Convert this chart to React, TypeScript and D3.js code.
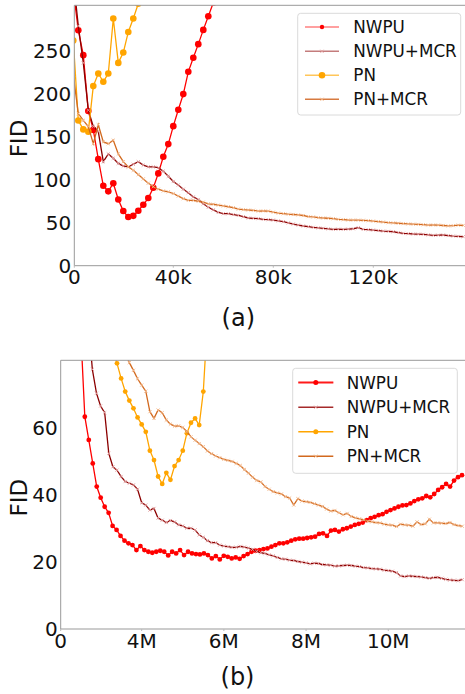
import * as d3 from "d3";

const FONT = "'DejaVu Sans', sans-serif";

// ---------- panel (a): FID vs iterations (k), one point every 2k ----------
const A_START = 0;
const A_STEP = 2;
const A_NWPU = [320, 274, 245, 180, 158, 124, 93, 86.5, 96, 77, 63.6, 56.6, 58, 64, 71, 78.7, 90.7, 107.4,
  126.7, 141.5, 162.4, 181.4, 199.7, 225.6, 241.9, 257.8, 274.4, 290.3, 306, 322];
const A_NWPU_MCR = [334, 279, 236, 181, 162, 156, 121, 130, 125, 119, 116, 115, 118, 121, 117, 115, 115, 114,
  110, 104, 98, 94, 89, 85, 80, 77, 72, 68, 65, 62, 60.5, 60.5, 59.5, 58.5, 57, 55.5, 55.1, 54.8, 53.9, 53.6,
  53.1, 52.2, 51.2, 49.8, 48.5, 47.3, 46.2, 45.4, 44.6, 44.0, 43.5, 42.9, 42.3, 42.5, 42.3, 42.6, 43.0, 44.2,
  42.3, 41.9, 41.5, 40.9, 40.3, 39.9, 39.5, 38.6, 37.7, 37.3, 36.9, 36.7, 36.5, 35.9, 35.3, 35.5, 35.7, 35.1,
  34.5, 34.1, 33.7];
const A_PN = [262, 169, 158.6, 156, 209, 223.7, 214, 223.7, 287.7, 236, 248, 272, 287.7, 305, 320];
const A_PN_MCR = [222, 177, 169, 162, 142, 164, 144, 142, 146, 130, 121, 115, 111, 106, 101, 96, 92, 89, 87,
  86, 84, 81, 78, 76, 76, 75, 74, 72, 71.5, 70.5, 69.5, 68.6, 67.5, 65.9, 65.2, 64.8, 64.4, 63.6, 63.8, 63.6,
  62.3, 61.2, 60.5, 59.9, 59.6, 59.1, 58.4, 57.2, 56.7, 55.9, 55.5, 55.2, 54.7, 54.0, 53.6, 53.2, 53.1, 53.0,
  52.8, 52.4, 51.9, 51.3, 50.8, 50.1, 49.8, 49.4, 49.0, 48.6, 48.3, 48.1, 47.7, 47.3, 47.4, 47.3, 46.8, 46.3,
  46.6, 47.2, 46.9];
const A_Y_TICKS = [0, 50, 100, 150, 200, 250];
const A_X_TICKS = [0, 40, 80, 120];
const A_X_LABELS = ["0", "40k", "80k", "120k"];

// ---------- panel (b): FID vs iterations (M) ----------
const B_NWPU_START = 2.52;
const B_NWPU_STEP = 0.0966;
const B_NWPU = [88, 63.2, 56.3, 49.3, 42.4, 39.1, 36.4, 34.6, 30.7, 29.5, 27.7, 26.3, 25.5, 25.0, 23.5, 24.7,
  23.5, 23.0, 22.7, 23.0, 23.3, 23.0, 21.9, 23.0, 22.5, 23.5, 22.0, 23.0, 22.5, 22.3, 22.2, 22.5, 22.0, 21.0,
  21.7, 20.7, 21.8, 21.5, 21.0, 21.3, 20.9, 21.7, 22.3, 23.0, 23.3, 23.5, 23.8, 24.0, 24.5, 25.0, 25.5, 25.5,
  25.8, 26.3, 26.7, 26.9, 26.9, 27.1, 27.3, 27.5, 28.3, 28.5, 27.7, 29.3, 29.5, 29.0, 29.7, 30.0, 30.5, 31.0,
  31.3, 31.7, 32.4, 33.0, 33.4, 33.9, 34.2, 34.9, 35.4, 35.9, 36.4, 36.8, 36.9, 37.4, 38.1, 38.6, 38.9, 39.6,
  39.2, 40.2, 41.4, 42.2, 43.2, 42.4, 44.2, 45.2, 45.8];
const B_NWPU_MCR_START = 2.7;
const B_NWPU_MCR = [92, 77.3, 70.2, 66.4, 64.4, 52.3, 48.3, 47.3, 45.4, 43.9, 43.4, 42.9, 41.6, 37.6, 36.9,
  35.4, 35.9, 33.0, 32.4, 31.7, 32.3, 31.9, 31.0, 30.7, 30.0, 30.0, 29.5, 28.0, 27.3, 26.3, 25.7, 25.7, 25.0,
  24.7, 24.5, 24.3, 24.3, 24.6, 24.4, 24.1, 23.7, 23.1, 22.7, 22.5, 22.1, 21.8, 21.3, 20.9, 20.8, 20.5, 20.4,
  20.1, 19.9, 19.7, 19.4, 19.6, 19.5, 19.2, 19.1, 19.0, 18.7, 18.8, 18.9, 19.0, 18.9, 18.7, 18.6, 18.3, 18.2,
  18.0, 17.9, 17.8, 17.5, 17.4, 17.2, 16.8, 15.8, 15.6, 15.8, 15.7, 15.6, 15.5, 15.3, 15.1, 15.3, 15.4, 15.1,
  14.8, 14.6, 14.5, 14.4, 14.7];
const B_PN_START = 3.3;
const B_PN = [83, 79.1, 74.6, 70.7, 68.0, 65.7, 63.0, 60.9, 58.7, 53.1, 50.3, 45.4, 43.2, 46.5, 44.4, 48.5,
  50.3, 53.1, 58.3, 61.4, 62.7, 60.7, 70.7, 92];
const B_PN_MCR_START = 3.6;
const B_PN_MCR = [82, 79.3, 77.0, 74.5, 72.6, 70.8, 64.7, 62.7, 65.2, 64.4, 62.2, 61.0, 60.4, 60.5, 60.0,
  58.8, 57.2, 56.2, 55.2, 54.3, 53.0, 52.2, 51.5, 51.0, 50.5, 50.2, 49.9, 49.3, 48.7, 47.5, 46.4, 45.2, 44.2,
  43.8, 42.4, 41.6, 40.9, 40.5, 40.2, 39.4, 39.0, 36.9, 38.8, 38.1, 37.9, 37.7, 37.3, 36.9, 36.5, 35.7, 35.1,
  35.3, 34.6, 34.0, 34.4, 33.5, 33.1, 32.8, 32.5, 32.1, 31.9, 31.7, 31.6, 31.2, 31.0, 30.9, 30.5, 31.2, 31.0,
  30.9, 30.6, 31.9, 31.1, 31.3, 32.7, 31.6, 31.6, 31.5, 31.4, 31.7, 31.1, 30.8, 30.6];
const B_STEP = 0.1;
const B_Y_TICKS = [0, 20, 40, 60];
const B_X_TICKS = [0, 4, 6, 8, 10];
const B_X_LABELS = ["0", "4M", "6M", "8M", "10M"];

const NAMES = ["NWPU", "NWPU+MCR", "PN", "PN+MCR"];

// styling
const LINE_COLORS = ["#ff0000", "#8b0000", "#ffa500", "#d2691e"];
const MARK_COLORS = ["#ff0000", "#e3a2a2", "#ffa500", "#f3b98c"];
const MARKS = ["o", "x", "o", "x"];

type Series = { values: number[]; start: number; step: number };

function toPoints(s: Series): [number, number][] {
  return s.values.map((v, i) => [s.start + i * s.step, v]);
}

function Marker({ kind, cx, cy, r, color }: any) {
  if (kind === "o") return <circle cx={cx} cy={cy} r={r} fill={color} />;
  const s = 1.6;
  return (
    <path
      d={`M${cx - s},${cy - s}L${cx + s},${cy + s}M${cx - s},${cy + s}L${cx + s},${cy - s}`}
      stroke={color}
      strokeWidth={0.9}
      fill="none"
    />
  );
}

function Panel(props: any) {
  const { id, box, xDomain, yMax, series, yTicks, xTicks, xLabels, legend, caption, dotR } = props;
  const x = d3.scaleLinear().domain(xDomain).range([box.left, box.right]);
  const y = d3.scaleLinear().domain([0, yMax]).range([box.bottom, box.top]);
  const line = d3
    .line<[number, number]>()
    .x((d) => x(d[0]))
    .y((d) => y(d[1]));

  return (
    <g fontFamily={FONT}>
      <defs>
        <clipPath id={id}>
          <rect x={box.left} y={box.top} width={box.right - box.left} height={box.bottom - box.top} />
        </clipPath>
      </defs>

      {/* curves */}
      <g clipPath={`url(#${id})`}>
        {series.map((s: Series, i: number) => {
          const pts = toPoints(s);
          return (
            <g key={i}>
              <path d={line(pts) || ""} fill="none" stroke={LINE_COLORS[i]} strokeWidth={1.3} />
              {pts.map((p, j) => (
                <Marker key={j} kind={MARKS[i]} cx={x(p[0])} cy={y(p[1])} r={dotR} color={MARK_COLORS[i]} />
              ))}
            </g>
          );
        })}
      </g>

      {/* spines */}
      <line x1={box.left} x2={box.right} y1={box.top} y2={box.top} stroke="#999" strokeWidth={1} />
      <line x1={box.left} x2={box.right} y1={box.bottom} y2={box.bottom} stroke="#999" strokeWidth={1} />
      <line x1={box.left} x2={box.left} y1={box.top} y2={box.bottom} stroke="#999" strokeWidth={1} />

      {/* y ticks */}
      {yTicks.map((t: number) => (
        <text key={t} x={box.left - 3} y={y(t)} dy="0.36em" textAnchor="end" fontSize={20} fill="#111">
          {t}
        </text>
      ))}
      {/* x ticks */}
      {xTicks.map((t: number, i: number) => {
        const px = Math.max(x(t), box.left);
        return (
          <g key={t}>
            <line x1={px} x2={px} y1={box.bottom} y2={box.bottom + 2} stroke="#bbb" />
            <text x={px} y={box.bottom + 18.5} textAnchor="middle" fontSize={20} fill="#111">
              {xLabels[i]}
            </text>
          </g>
        );
      })}

      <text
        transform={`translate(${18.3},${(box.top + box.bottom) / 2 + 3}) rotate(-90)`}
        textAnchor="middle"
        dy="0.36em"
        fontSize={23}
        fill="#111"
      >
        FID
      </text>

      <text x={caption.x} y={caption.y} textAnchor="middle" fontSize={24} fill="#111">
        {caption.text}
      </text>

      {/* legend */}
      <rect
        x={legend.x}
        y={legend.y}
        width={legend.w}
        height={legend.h}
        rx={3}
        fill="#fff"
        fillOpacity={0.8}
        stroke="#dadada"
      />
      {NAMES.map((name, i) => {
        const ry = legend.rows[i];
        const mx = (legend.lx1 + legend.lx2) / 2;
        return (
          <g key={name}>
            {legend.halo[i] && (
              <line x1={legend.lx1} x2={legend.lx2} y1={ry} y2={ry} stroke={legend.halo[i]} strokeWidth={3.2} />
            )}
            <line x1={legend.lx1} x2={legend.lx2} y1={ry} y2={ry} stroke={legend.colors[i]} strokeWidth={1.6} />
            <Marker kind={MARKS[i]} cx={mx} cy={ry} r={legend.dotR[i]} color={MARK_COLORS[i]} />
            <text x={legend.tx} y={ry} dy="0.36em" fontSize={16.8} fill="#111">
              {name}
            </text>
          </g>
        );
      })}
    </g>
  );
}

export default function App() {
  const seriesA: Series[] = [
    { values: A_NWPU, start: A_START, step: A_STEP },
    { values: A_NWPU_MCR, start: A_START, step: A_STEP },
    { values: A_PN, start: A_START, step: A_STEP },
    { values: A_PN_MCR, start: A_START, step: A_STEP },
  ];
  const seriesB: Series[] = [
    { values: B_NWPU, start: B_NWPU_START, step: B_NWPU_STEP },
    { values: B_NWPU_MCR, start: B_NWPU_MCR_START, step: B_STEP },
    { values: B_PN, start: B_PN_START, step: B_STEP },
    { values: B_PN_MCR, start: B_PN_MCR_START, step: B_STEP },
  ];

  return (
    <svg
      width={465}
      height={694}
      style={{ position: "absolute", left: 0, top: 0, background: "#fff" }}
    >
      <Panel
        id="clipA"
        box={{ left: 74.3, right: 467, top: 5.3, bottom: 265.7 }}
        xDomain={[0.4, 0.4 + (467 - 74.3) / 2.5]}
        yMax={303}
        series={seriesA}
        yTicks={A_Y_TICKS}
        xTicks={A_X_TICKS}
        xLabels={A_X_LABELS}
        dotR={3.3}
        caption={{ text: "(a)", x: 238.3, y: 325.8 }}
        legend={{
          x: 297.7, y: 13.3, w: 163, h: 101.7,
          rows: [27, 51.3, 75.3, 99.3],
          lx1: 305, lx2: 339, tx: 353.3,
          colors: ["#ff8080", "#c47c7c", "#ffc65a", "#d77a40"],
          halo: [null, null, null, null],
          dotR: [2.2, 0, 3.3, 0],
        }}
      />
      <Panel
        id="clipB"
        box={{ left: 60.7, right: 467, top: 360.3, bottom: 629 }}
        xDomain={[2.03, 2.03 + (467 - 60.7) / 41.1]}
        yMax={80}
        series={seriesB}
        yTicks={B_Y_TICKS}
        xTicks={B_X_TICKS}
        xLabels={B_X_LABELS}
        dotR={2.4}
        caption={{ text: "(b)", x: 237.5, y: 684.8 }}
        legend={{
          x: 292.7, y: 368.3, w: 164.6, h: 105,
          rows: [382.5, 407.2, 431.8, 456.2],
          lx1: 298.3, lx2: 333.3, tx: 346.7,
          colors: ["#ff1a1a", "#a52a2a", "#ffa500", "#d2691e"],
          halo: ["#ffb3b3", null, null, null],
          dotR: [2.5, 0, 2.5, 0],
        }}
      />
    </svg>
  );
}
